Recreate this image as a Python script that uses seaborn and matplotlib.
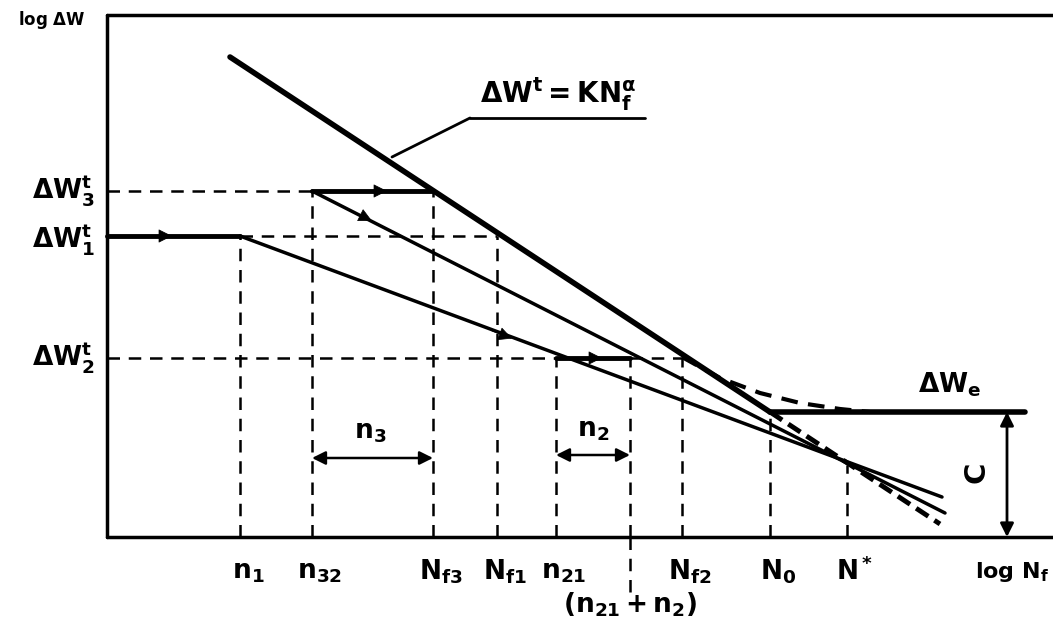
import numpy as np
import pandas as pd
import matplotlib.pyplot as plt
import seaborn as sns

# ----------------------------------------------------------
# schematic data (x = log N, y = log dW, arbitrary units)
# ----------------------------------------------------------

tick_x = [1.33, 2.05, 3.26, 3.90, 4.49, 5.23, 5.75, 6.63, 7.40]
tick_labels = [r"$n_1$", r"$n_{32}$", r"$N_{f3}$", r"$N_{f1}$", r"$n_{21}$",
               "", r"$N_{f2}$", r"$N_0$", r"$N^*$"]
tick_top = [3.01, 3.46, 3.46, 3.01, 1.79, 1.79, 1.79, 1.25, 0.72]

dw3, dw1, dw2, dwe = 3.46, 3.01, 1.79, 1.25

main_x = [1.23, 6.63]
main_y = [4.80, 1.25]
tail_x = [6.63, 8.33]
tail_y = [1.25, 0.13]
line_a_x = [1.33, 8.35]
line_a_y = [3.01, 0.40]
line_b_x = [2.05, 8.38]
line_b_y = [3.46, 0.24]
knee_x = [5.75, 6.13, 6.53, 6.93, 7.33, 7.63]
knee_y = [1.80, 1.59, 1.44, 1.34, 1.28, 1.25]

x_right = 9.46
y_top = 5.22
dwe_end = 9.18
c_x = 9.00

sns.set_style("white")
plt.rcParams["font.family"] = ["DejaVu Sans"]
plt.rcParams["mathtext.fontset"] = "dejavusans"
plt.rcParams["mathtext.default"] = "bf"
plt.rcParams["text.color"] = "black"

fig = plt.figure(figsize=(10.53, 6.29), dpi=100)
ax = fig.add_axes([0, 0, 1, 1])
ax.set_xlim(-1.07, x_right)
ax.set_ylim(-0.92, 5.37)
ax.axis("off")

K = "black"
DASH = (0, (5, 3.5))

# frame
ax.plot([0, 0], [0, y_top], color=K, lw=2.5)
ax.plot([0, x_right], [0, 0], color=K, lw=2.5)
ax.plot([0, x_right], [y_top, y_top], color=K, lw=2.5)

# main curves
sns.lineplot(x=main_x, y=main_y, ax=ax, color=K, lw=4)
sns.lineplot(x=tail_x, y=tail_y, ax=ax, color=K, lw=3.5, linestyle=(0, (3, 1.5)))
sns.lineplot(x=line_a_x, y=line_a_y, ax=ax, color=K, lw=2.5)
sns.lineplot(x=line_b_x, y=line_b_y, ax=ax, color=K, lw=2.5)
sns.lineplot(x=knee_x, y=knee_y, ax=ax, color=K, lw=3, linestyle=(0, (4, 2.5)))

# vertical dashed lines
ax.vlines(tick_x, 0, tick_top, colors=K, lw=1.8, linestyles=[DASH])
ax.plot([tick_x[5], tick_x[5]], [0, -0.55], color=K, lw=1.8, linestyle=DASH)

# horizontal levels
ax.plot([0, tick_x[1]], [dw3, dw3], color=K, lw=1.8, linestyle=DASH)
ax.plot([tick_x[1], tick_x[2]], [dw3, dw3], color=K, lw=3.5)
ax.plot([0, tick_x[0]], [dw1, dw1], color=K, lw=3.5)
ax.plot([tick_x[0], tick_x[3]], [dw1, dw1], color=K, lw=1.8, linestyle=DASH)
ax.plot([0, tick_x[4]], [dw2, dw2], color=K, lw=1.8, linestyle=DASH)
ax.plot([tick_x[4], tick_x[5]], [dw2, dw2], color=K, lw=3.5)
ax.plot([tick_x[5], tick_x[6]], [dw2, dw2], color=K, lw=1.8, linestyle=DASH)
ax.plot([tick_x[7], dwe_end], [dwe, dwe], color=K, lw=4)


def arrow_on(x, y, dx, dy):
    ax.annotate("", xy=(x + dx, y + dy), xytext=(x, y),
                arrowprops=dict(arrowstyle="-|>", color=K, lw=0.5,
                                mutation_scale=22, shrinkA=0, shrinkB=0))


arrow_on(0.45, dw1, 0.2, 0)
arrow_on(2.55, dw3, 0.25, 0)
arrow_on(2.45, 3.26, 0.2, -0.10)
arrow_on(3.85, 2.06, 0.2, -0.075)
arrow_on(4.75, dw2, 0.2, 0)


def span(x0, x1, y):
    ax.annotate("", xy=(x1, y), xytext=(x0, y),
                arrowprops=dict(arrowstyle="<|-|>", color=K, lw=1.8,
                                mutation_scale=20, shrinkA=0, shrinkB=0))


span(tick_x[1], tick_x[2], 0.79)
span(tick_x[4], tick_x[5], 0.82)
ax.annotate("", xy=(c_x, 0), xytext=(c_x, dwe),
            arrowprops=dict(arrowstyle="<|-|>", color=K, lw=2,
                            mutation_scale=20, shrinkA=0, shrinkB=0))

# texts
fs = 19
ax.text(-0.55, 5.17, r"log $\Delta W$", fontsize=12, fontweight="bold",
        ha="center", va="center")
ax.text(-0.12, dw3, r"$\Delta W_3^t$", fontsize=fs, ha="right", va="center")
ax.text(-0.12, dw1 - 0.04, r"$\Delta W_1^t$", fontsize=fs, ha="right", va="center")
ax.text(-0.12, dw2, r"$\Delta W_2^t$", fontsize=fs, ha="right", va="center")

for x, lab in zip(tick_x, tick_labels):
    ax.text(x + 0.08, -0.35, lab, fontsize=fs, ha="center", va="center")
ax.text(tick_x[5], -0.68, r"$(n_{21}+n_2)$", fontsize=fs, ha="center", va="center")
ax.text(9.42, -0.35, r"log $N_f$", fontsize=fs - 3, fontweight="bold",
        ha="right", va="center")

ax.text(2.63, 1.05, r"$n_3$", fontsize=fs, ha="center", va="center")
ax.text(4.86, 1.07, r"$n_2$", fontsize=fs, ha="center", va="center")
ax.text(8.43, 1.52, r"$\Delta W_e$", fontsize=fs, ha="center", va="center")
ax.text(8.70, 0.65, "C", fontsize=fs + 2, fontweight="bold", rotation=90,
        ha="center", va="center")

# equation label with leader line
ax.text(4.51, 4.43, r"$\Delta W^t = K N_f^\alpha$", fontsize=fs + 1,
        ha="center", va="center")
ax.plot([3.63, 5.38], [4.19, 4.19], color=K, lw=2)
ax.plot([2.85, 3.63], [3.80, 4.19], color=K, lw=2)

fig.savefig("out.png", dpi=100)
